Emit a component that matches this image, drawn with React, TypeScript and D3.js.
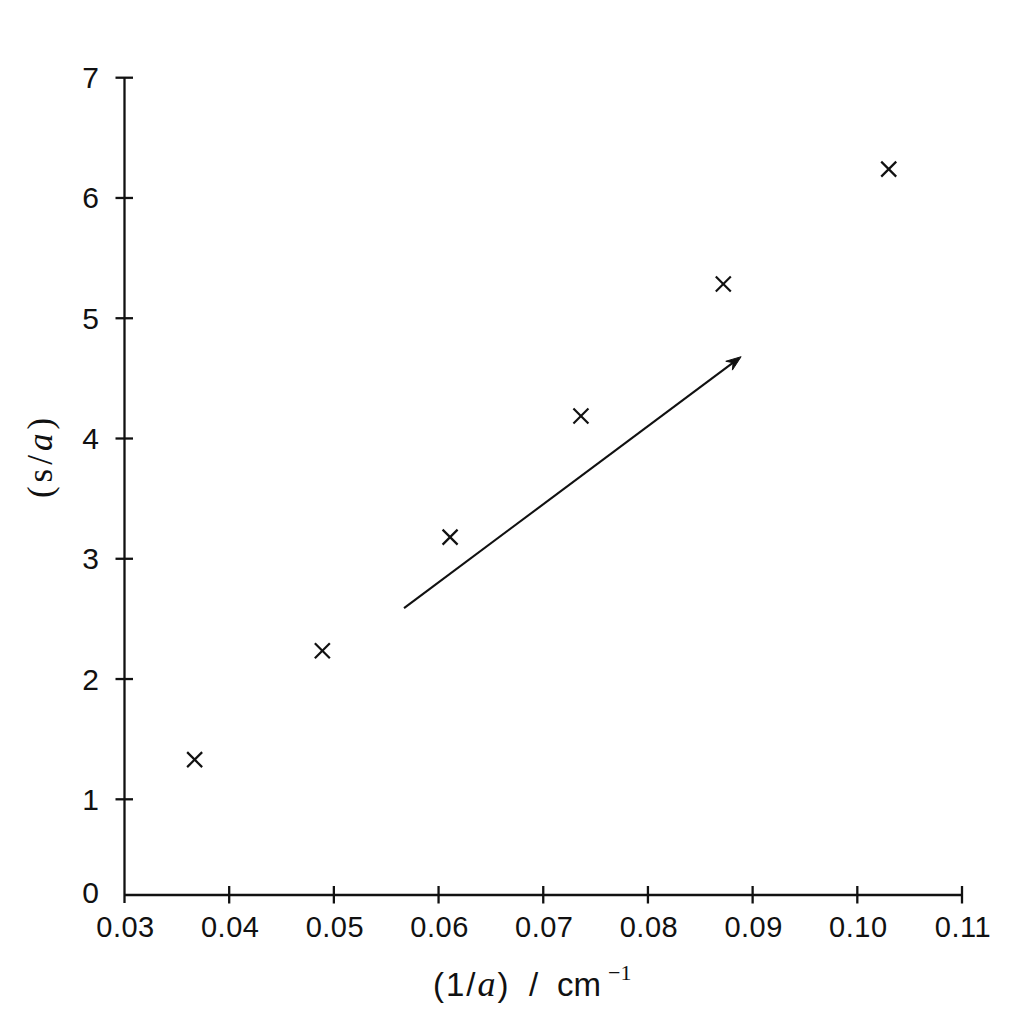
import React from "react";
import * as d3 from "d3";

// Data
const invA: number[] = [0.0367, 0.0489, 0.0611, 0.0736, 0.0872, 0.103];
const sOverA: number[] = [1.33, 2.235, 3.18, 4.187, 5.284, 6.24];
const xTicks: number[] = [0.03, 0.04, 0.05, 0.06, 0.07, 0.08, 0.09, 0.1, 0.11];
const xTickLabels: string[] = ["0.03", "0.04", "0.05", "0.06", "0.07", "0.08", "0.09", "0.10", "0.11"];
const yTicks: number[] = [0, 1, 2, 3, 4, 5, 6, 7];
const arrowFrom: [number, number] = [0.0567, 2.59];
const arrowTo: [number, number] = [0.0889, 4.68];

const W = 1024;
const H = 1024;

export default function App() {
  const x = d3.scaleLinear().domain([0.03, 0.11]).range([124.5, 962]);
  // axis origin is compressed in the reference: 0 sits closer to 1 than other steps
  const y = d3.scaleLinear().domain([0, 1, 7]).range([895, 799.3, 77.7]);

  const sans = "'Liberation Sans', Arial, sans-serif";
  const serif = "'Liberation Serif', 'Times New Roman', serif";
  const axisW = 2.3;
  const cross = 7.5;

  const ax0 = x(0.03);
  const ay0 = y(0);

  const x1 = x(arrowFrom[0]);
  const y1 = y(arrowFrom[1]);
  const x2 = x(arrowTo[0]);
  const y2 = y(arrowTo[1]);
  const ang = Math.atan2(y2 - y1, x2 - x1);
  const headLen = 15;
  const headW = 5.5;
  const back = 10;
  const bx = x2 - Math.cos(ang) * headLen;
  const by = y2 - Math.sin(ang) * headLen;
  const nx = -Math.sin(ang);
  const ny = Math.cos(ang);
  const notchX = x2 - Math.cos(ang) * back;
  const notchY = y2 - Math.sin(ang) * back;
  const headPath = d3.path();
  headPath.moveTo(x2, y2);
  headPath.lineTo(bx + nx * headW, by + ny * headW);
  headPath.lineTo(notchX, notchY);
  headPath.lineTo(bx - nx * headW, by - ny * headW);
  headPath.closePath();

  return (
    <svg
      width={W}
      height={H}
      viewBox={`0 0 ${W} ${H}`}
      style={{ position: "absolute", left: 0, top: 0, background: "#fff" }}
    >
      <rect x={0} y={0} width={W} height={H} fill="#fff" />
      {/* axes */}
      <line x1={ax0} y1={y(7)} x2={ax0} y2={ay0 + 8} stroke="#111" strokeWidth={axisW} />
      <line x1={ax0} y1={ay0} x2={x(0.11)} y2={ay0} stroke="#111" strokeWidth={axisW} />
      {/* y ticks */}
      {yTicks.map((t) => (
        <g key={"yt" + t}>
          {t > 0 && (
            <line x1={ax0 - 9} x2={ax0 + 8.5} y1={y(t)} y2={y(t)} stroke="#111" strokeWidth={axisW} />
          )}
          <text
            x={99}
            y={t === 0 ? 892 : y(t)}
            textAnchor="end"
            dominantBaseline="central"
            fontFamily={sans}
            fontSize={30}
            fill="#111"
          >
            {t}
          </text>
        </g>
      ))}
      {/* x ticks */}
      {xTicks.map((t, i) => (
        <g key={"xt" + i}>
          {i > 0 && (
            <line x1={x(t)} x2={x(t)} y1={ay0 - 9} y2={ay0 + 8.5} stroke="#111" strokeWidth={axisW} />
          )}
          <text
            x={x(t) + 1}
            y={937}
            textAnchor="middle"
            fontFamily={sans}
            fontSize={29}
            letterSpacing={0.5}
            fill="#111"
          >
            {xTickLabels[i]}
          </text>
        </g>
      ))}
      {/* data crosses */}
      {invA.map((v, i) => {
        const cx = x(v);
        const cy = y(sOverA[i]);
        return (
          <g key={"pt" + i} stroke="#111" strokeWidth={2.2}>
            <line x1={cx - cross} y1={cy - cross} x2={cx + cross} y2={cy + cross} />
            <line x1={cx - cross} y1={cy + cross} x2={cx + cross} y2={cy - cross} />
          </g>
        );
      })}
      {/* arrow */}
      <line x1={x1} y1={y1} x2={notchX} y2={notchY} stroke="#111" strokeWidth={2.1} />
      <path d={headPath.toString()} fill="#111" stroke="#111" strokeWidth={1} strokeLinejoin="miter" />
      {/* x axis label */}
      <text y={996} fontFamily={sans} fontSize={33} fill="#111">
        <tspan x={433} letterSpacing={2}>(1/</tspan>
        <tspan fontFamily={serif} fontStyle="italic" fontSize={36}>a</tspan>
        <tspan dx={2}>)</tspan>
        <tspan x={529}>/</tspan>
        <tspan x={557}>cm</tspan>
        <tspan x={608} fontFamily={serif} fontSize={22} dy={-16}>−1</tspan>
      </text>
      {/* y axis label */}
      <text
        transform={`translate(52, 456) rotate(-90)`}
        textAnchor="middle"
        fontFamily={serif}
        fontSize={35}
        fill="#111"
        letterSpacing={4}
      >
        <tspan>(s/</tspan>
        <tspan fontStyle="italic">a</tspan>
        <tspan>)</tspan>
      </text>
    </svg>
  );
}
